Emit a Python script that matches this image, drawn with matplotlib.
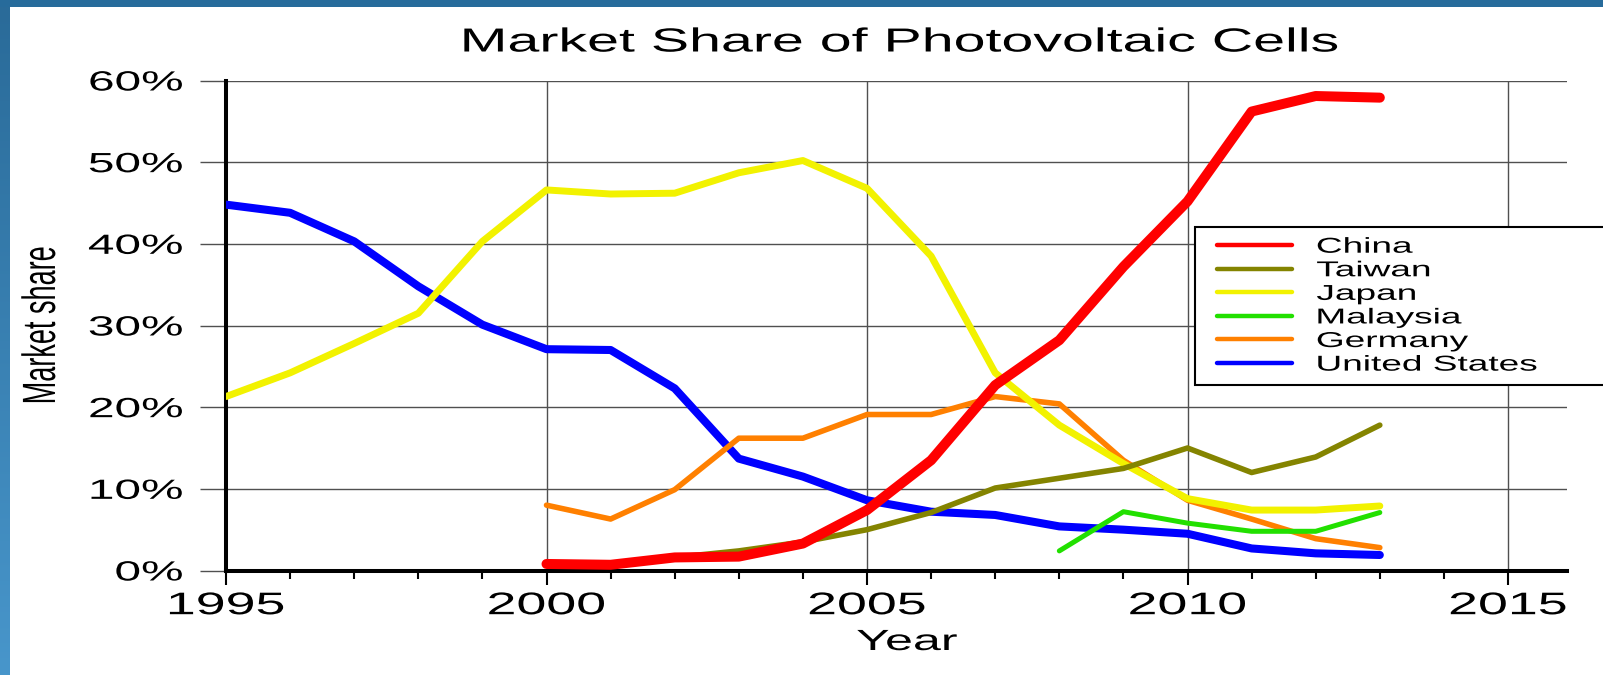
import numpy as np
import matplotlib
matplotlib.use("Agg")
import matplotlib.pyplot as plt
import matplotlib.patheffects as pe
from matplotlib.patches import Rectangle
from matplotlib.transforms import Affine2D
from matplotlib.legend_handler import HandlerLine2D

plt.rcParams['font.family'] = ['Liberation Sans', 'DejaVu Sans']

# data (percent)
years = list(range(1995, 2014))
years_2000 = list(range(2000, 2014))
years_2008 = list(range(2008, 2014))

china = [0.8, 0.7, 1.6, 1.7, 3.3, 7.4, 13.5, 22.7, 28.2, 37.2, 45.2, 56.2, 58.1, 57.9]
taiwan = [0.9, 0.8, 1.6, 2.4, 3.5, 5.0, 7.1, 10.1, 11.3, 12.5, 15.0, 12.0, 13.9, 17.8]
japan = [21.3, 24.2, 27.8, 31.5, 40.3, 46.6, 46.1, 46.2, 48.7, 50.2,
         46.8, 38.5, 24.2, 17.8, 13.1, 8.8, 7.4, 7.4, 7.9]
malaysia = [2.4, 7.2, 5.8, 4.8, 4.8, 7.1]
germany = [8.0, 6.3, 9.9, 16.2, 16.2, 19.1, 19.1, 21.3, 20.4, 13.5, 8.6, 6.3, 3.9, 2.8]
usa = [44.8, 43.8, 40.3, 34.8, 30.1, 27.1, 27.0, 22.3, 13.7, 11.5,
       8.6, 7.2, 6.8, 5.4, 5.0, 4.5, 2.7, 2.1, 1.9]

yticks = [0, 10, 20, 30, 40, 50, 60]
xticks = [1995, 2000, 2005, 2010, 2015]

W, H = 1603, 675
SX = 1.72  # the source picture is stretched sideways


class Stretch(pe.AbstractPathEffect):
    # widen text horizontally around an anchor (left / center / right)
    def __init__(self, sx, anchor='center'):
        super().__init__()
        self.sx = sx
        self.anchor = anchor

    def draw_path(self, renderer, gc, tpath, affine, rgbFace=None):
        bb = tpath.get_extents(affine)
        if self.anchor == 'left':
            x0 = bb.x0
        elif self.anchor == 'right':
            x0 = bb.x1
        else:
            x0 = (bb.x0 + bb.x1) / 2
        t = affine + Affine2D().translate(-x0, 0).scale(self.sx, 1).translate(x0, 0)
        renderer.draw_path(gc, tpath, t, rgbFace)


fig = plt.figure(figsize=(W / 100, H / 100), dpi=100)

# slide frame: blue band on top and left
fig.patches.append(Rectangle((0, 1 - 7 / H), 1, 7 / H, transform=fig.transFigure,
                             facecolor='#276b9b', edgecolor='none', zorder=0))
band = fig.add_axes([0, 0, 10 / W, 1 - 7 / H])
grad = np.linspace(0, 1, 256).reshape(-1, 1)
band.imshow(grad, aspect='auto', cmap=matplotlib.colors.LinearSegmentedColormap.from_list(
    'b', ['#2a6b99', '#4896cb']), extent=[0, 1, 0, 1], origin='upper')
band.axis('off')

ax = fig.add_axes([226 / W, (H - 570.5) / H, (1567 - 226) / W, (570.5 - 80.5) / H])

ax.plot(years, usa, color='#0000ff', lw=5.8, solid_capstyle='round', solid_joinstyle='round', label='United States', zorder=3)
ax.plot(years_2000, germany, color='#ff8000', lw=4.0, solid_capstyle='round', solid_joinstyle='round', label='Germany', zorder=4)
ax.plot(years_2008, malaysia, color='#22e000', lw=3.6, solid_capstyle='round', solid_joinstyle='round', label='Malaysia', zorder=5)
ax.plot(years, japan, color='#f2f200', lw=5.0, solid_capstyle='round', solid_joinstyle='round', label='Japan', zorder=6)
ax.plot(years_2000, taiwan, color='#848400', lw=4.0, solid_capstyle='round', solid_joinstyle='round', label='Taiwan', zorder=7)
ax.plot(years_2000, china, color='#ff0000', lw=7.2, solid_capstyle='round', solid_joinstyle='round', label='China', zorder=8)

ax.set_xlim(1995, 2015.92)
ax.set_ylim(0, 60)
ax.set_xticks(xticks)
ax.set_xticks(range(1995, 2016), minor=True)
ax.set_yticks(yticks)
ax.set_yticklabels([f'{v}%' for v in yticks])

ax.grid(True, which='major', color='#505050', lw=1.0)
ax.set_axisbelow(True)
for s in ['top', 'right']:
    ax.spines[s].set_visible(False)
for s in ['left', 'bottom']:
    ax.spines[s].set_linewidth(2.9)
    ax.spines[s].set_color('black')

ax.tick_params(axis='y', which='major', length=19, width=1.0, color='#505050',
               pad=12, labelsize=20)
ax.tick_params(axis='x', which='major', length=10.4, width=1.5, color='black',
               pad=4.5, labelsize=22.5)
ax.tick_params(axis='x', which='minor', length=6, width=1.5, color='black')

for t in ax.xaxis.get_major_ticks():
    t.label1.set_path_effects([Stretch(SX, 'center')])
for t in ax.yaxis.get_major_ticks():
    t.label1.set_path_effects([Stretch(SX, 'right')])

# legend in the order of the picture
handles, labels = ax.get_legend_handles_labels()
order = ['China', 'Taiwan', 'Japan', 'Malaysia', 'Germany', 'United States']
hmap = dict(zip(labels, handles))
leg = ax.legend([hmap[k] for k in order], order, loc='upper left',
                bbox_to_anchor=(0.7226, 0.701, 0.4, 0), mode='expand',
                borderaxespad=0, fontsize=15.5, frameon=True, fancybox=False,
                framealpha=1, edgecolor='black', borderpad=0.45,
                labelspacing=0.12, handlelength=4.6, handletextpad=0.6,
                numpoints=2,
                handler_map={matplotlib.lines.Line2D: HandlerLine2D(marker_pad=0.56)})
leg.get_frame().set_linewidth(1.5)
leg.set_zorder(20)
for ln in leg.get_lines():
    ln.set_linewidth(3.2)
for t in leg.get_texts():
    t.set_path_effects([Stretch(SX, 'left')])

fig.text(900 / W, 1 - 43 / H, 'Market Share of Photovoltaic Cells', ha='center',
         va='center', fontsize=24, path_effects=[Stretch(SX, 'center')])
fig.text(907 / W, 1 - 642 / H, 'Year', ha='center', va='center', fontsize=21,
         path_effects=[Stretch(SX, 'center')])
fig.text(41 / W, 1 - 325 / H, 'Market share', ha='center', va='center', rotation=90,
         fontsize=19.5, path_effects=[Stretch(SX, 'center')])

fig.savefig('out.png', dpi=100)
